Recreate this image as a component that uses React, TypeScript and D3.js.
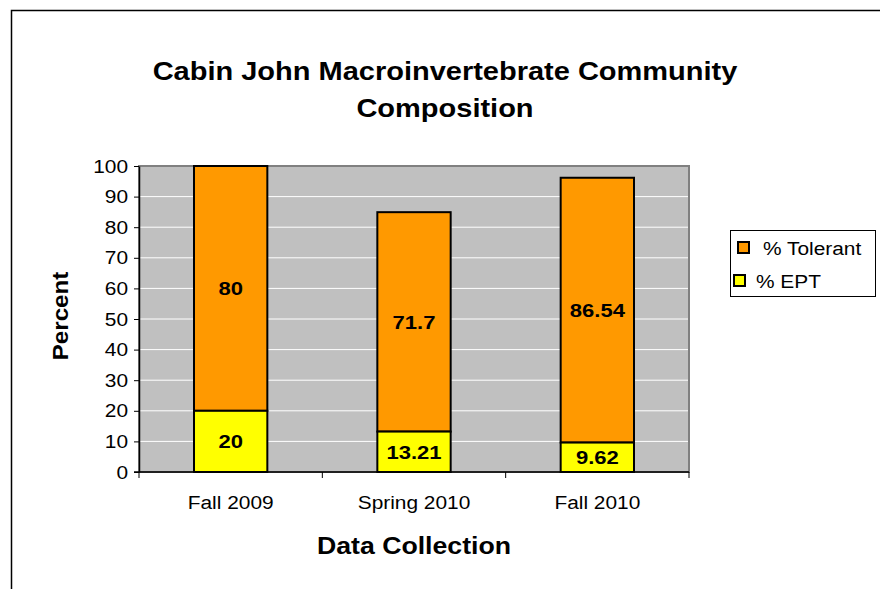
import React, { useEffect, useRef } from "react";
import * as d3 from "d3";

const categories = ["Fall 2009", "Spring 2010", "Fall 2010"];
const eptValues = [20, 13.21, 9.62];
const tolerantValues = [80, 71.7, 86.54];
const yTicks = [0, 10, 20, 30, 40, 50, 60, 70, 80, 90, 100];
const seriesNames = ["% Tolerant", "% EPT"];

const WIDTH = 880;
const HEIGHT = 589;
const FONT = "Arial, 'Liberation Sans', Helvetica, sans-serif";
// the source picture is stretched a little horizontally
const SX = 1.16;

const App = () => {
  const ref = useRef<SVGSVGElement | null>(null);

  useEffect(() => {
    const svg = d3.select(ref.current);
    svg.selectAll("*").remove();

    const label = (
      g: any,
      x: number,
      y: number,
      str: string,
      size: number,
      bold = false,
      anchor = "middle"
    ) =>
      g
        .append("text")
        .attr("transform", `translate(${x},${y}) scale(${SX},1)`)
        .attr("text-anchor", anchor)
        .style("font-family", FONT)
        .style("font-size", `${size}px`)
        .style("font-weight", bold ? "bold" : "normal")
        .attr("fill", "black")
        .text(str);

    const plot = { left: 139, top: 166, right: 689, bottom: 472 };

    // outer chart border (clipped on right and bottom)
    svg
      .append("rect")
      .attr("x", 11.5)
      .attr("y", 10.5)
      .attr("width", WIDTH)
      .attr("height", HEIGHT)
      .attr("fill", "white")
      .attr("stroke", "black")
      .attr("stroke-width", 1.5);

    const x = d3
      .scaleBand()
      .domain(categories)
      .range([plot.left, plot.right])
      .paddingInner(0.6)
      .paddingOuter(0.3);

    const y = d3.scaleLinear().domain([0, 100]).range([plot.bottom, plot.top]);

    // plot area
    svg
      .append("rect")
      .attr("x", plot.left)
      .attr("y", plot.top)
      .attr("width", plot.right - plot.left)
      .attr("height", plot.bottom - plot.top)
      .attr("fill", "#C0C0C0")
      .attr("stroke", "#808080")
      .attr("stroke-width", 2);

    svg
      .append("g")
      .selectAll("line")
      .data(yTicks.filter((t) => t > 0 && t < 100))
      .join("line")
      .attr("x1", plot.left)
      .attr("x2", plot.right - 1)
      .attr("y1", (d) => y(d))
      .attr("y2", (d) => y(d))
      .attr("stroke", "white")
      .attr("stroke-width", 1);

    // y axis
    const yAxis = svg
      .append("g")
      .attr("transform", `translate(${plot.left},0)`)
      .call(d3.axisLeft(y).tickValues(yTicks).tickSize(5).tickFormat(() => "").tickSizeOuter(0));
    yAxis.select(".domain").attr("stroke", "black").attr("stroke-width", 1.5);
    yAxis.selectAll(".tick line").attr("stroke", "black");
    const yLabels = svg.append("g");
    yTicks.forEach((t) => label(yLabels, plot.left - 11, y(t) + 6.5, String(t), 18, false, "end"));

    // x axis
    const xAxis = svg.append("g").attr("transform", `translate(0,${plot.bottom})`);
    xAxis
      .append("line")
      .attr("x1", plot.left - 5)
      .attr("x2", plot.right)
      .attr("y1", 0)
      .attr("y2", 0)
      .attr("stroke", "black")
      .attr("stroke-width", 1.5);
    const step = (plot.right - plot.left) / categories.length;
    xAxis
      .selectAll("line.tk")
      .data(d3.range(categories.length + 1))
      .join("line")
      .attr("class", "tk")
      .attr("x1", (i) => plot.left + i * step)
      .attr("x2", (i) => plot.left + i * step)
      .attr("y1", 0)
      .attr("y2", 6)
      .attr("stroke", "black");
    categories.forEach((c) => label(xAxis, x(c)! + x.bandwidth() / 2, 37, c, 18));

    // bars
    const bars = svg.append("g");
    categories.forEach((c, i) => {
      const bx = x(c)!;
      const e = eptValues[i];
      const t = tolerantValues[i];
      bars
        .append("rect")
        .attr("x", bx)
        .attr("y", y(e + t))
        .attr("width", x.bandwidth())
        .attr("height", y(e) - y(e + t))
        .attr("fill", "#FF9900")
        .attr("stroke", "black")
        .attr("stroke-width", 2);
      bars
        .append("rect")
        .attr("x", bx)
        .attr("y", y(e))
        .attr("width", x.bandwidth())
        .attr("height", y(0) - y(e))
        .attr("fill", "#FFFF00")
        .attr("stroke", "black")
        .attr("stroke-width", 2);
      [
        { v: t, mid: e + t / 2 },
        { v: e, mid: e / 2 },
      ].forEach((s) => label(bars, bx + x.bandwidth() / 2, y(s.mid) + 7, String(s.v), 19, true));
    });

    // titles
    label(svg, 445, 80, "Cabin John Macroinvertebrate Community", 25, true);
    label(svg, 445, 117, "Composition", 25, true);

    svg
      .append("text")
      .attr("transform", "translate(68,316) rotate(-90) scale(1.1,1)")
      .attr("text-anchor", "middle")
      .style("font-family", FONT)
      .style("font-size", "22px")
      .style("font-weight", "bold")
      .text("Percent");

    label(svg, 414, 554, "Data Collection", 23, true);

    // legend
    const lg = svg.append("g");
    lg.append("rect")
      .attr("x", 730.5)
      .attr("y", 230.5)
      .attr("width", 145)
      .attr("height", 66)
      .attr("fill", "white")
      .attr("stroke", "black")
      .attr("stroke-width", 1);
    const legendColors = ["#FF9900", "#FFFF00"];
    const swatchX = [738, 734];
    const textX = [763, 756];
    seriesNames.forEach((n, i) => {
      const cy = 248 + i * 33;
      lg.append("rect")
        .attr("x", swatchX[i])
        .attr("y", cy - 6)
        .attr("width", 11)
        .attr("height", 11)
        .attr("fill", legendColors[i])
        .attr("stroke", "black")
        .attr("stroke-width", 2);
      label(lg, textX[i], cy + 6.5, n, 18, false, "start");
    });
  }, []);

  return (
    <svg
      ref={ref}
      width={WIDTH}
      height={HEIGHT}
      style={{ position: "absolute", left: 0, top: 0, display: "block" }}
    />
  );
};

export default App;
